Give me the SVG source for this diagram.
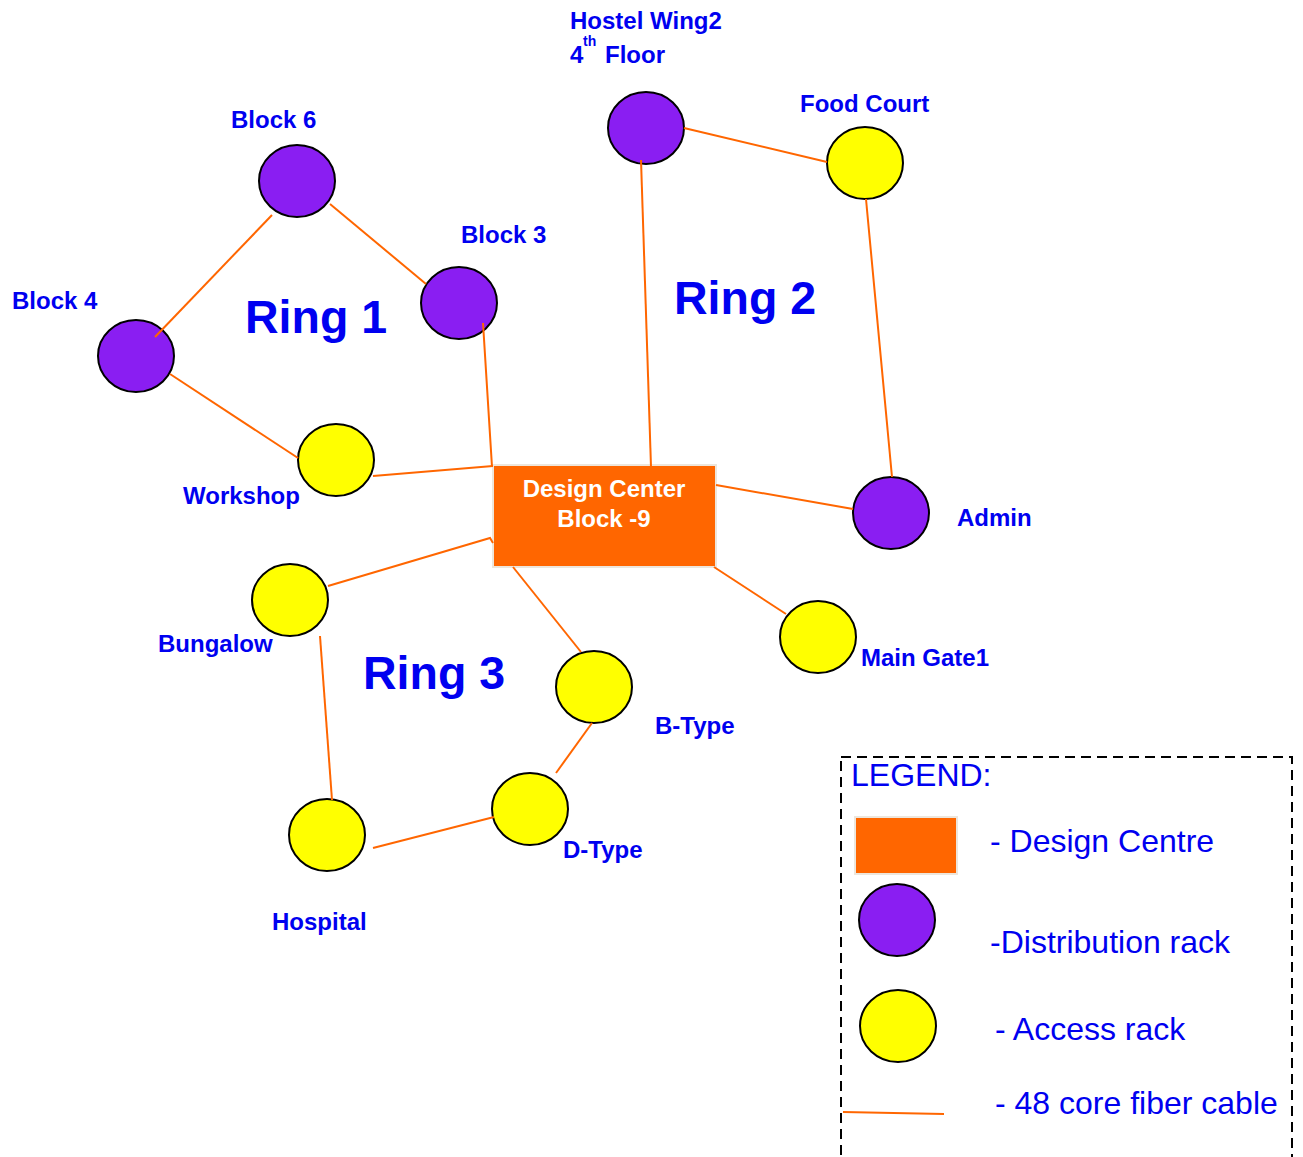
<svg xmlns="http://www.w3.org/2000/svg" width="1303" height="1157" viewBox="0 0 1303 1157">
<style>
.lbl{font-family:"Liberation Sans",Arial,sans-serif;font-weight:bold;font-size:24px;fill:#0000F0}
.ring{font-family:"Liberation Sans",Arial,sans-serif;font-weight:bold;font-size:46.5px;fill:#0000F0}
.leg{font-family:"Liberation Sans",Arial,sans-serif;font-size:32px;fill:#0000F0}
.dc{font-family:"Liberation Sans",Arial,sans-serif;font-weight:bold;font-size:24px;fill:#FFFFFF}
.dist{fill:#8A1EF2;stroke:#000;stroke-width:2}
.acc{fill:#FFFF00;stroke:#000;stroke-width:2}
.cable{stroke:#FF6600;stroke-width:2;fill:none}
</style>
<rect width="1303" height="1157" fill="#FFFFFF"/>

<g id="nodes">
<g id="block6"><ellipse class="dist" cx="297" cy="181" rx="38" ry="36"/><text class="lbl" x="231" y="128">Block 6</text></g>
<g id="block3"><ellipse class="dist" cx="459" cy="303" rx="38" ry="36"/><text class="lbl" x="461" y="243">Block 3</text></g>
<g id="block4"><ellipse class="dist" cx="136" cy="356" rx="38" ry="36"/><text class="lbl" x="12" y="309">Block 4</text></g>
<g id="workshop"><ellipse class="acc" cx="336" cy="460" rx="38" ry="36"/><text class="lbl" x="183" y="504">Workshop</text></g>
<g id="hostel"><ellipse class="dist" cx="646" cy="128" rx="38" ry="36"/><text class="lbl" x="570" y="29">Hostel Wing2</text><text class="lbl" x="570" y="63">4</text><text class="lbl" x="583" y="46" style="font-size:14px">th</text><text class="lbl" x="605" y="63">Floor</text></g>
<g id="foodcourt"><ellipse class="acc" cx="865" cy="163" rx="38" ry="36"/><text class="lbl" x="800" y="112">Food Court</text></g>
<g id="admin"><ellipse class="dist" cx="891" cy="513" rx="38" ry="36"/><text class="lbl" x="957" y="526">Admin</text></g>
<g id="maingate"><ellipse class="acc" cx="818" cy="637" rx="38" ry="36"/><text class="lbl" x="861" y="666">Main Gate1</text></g>
<g id="bungalow"><ellipse class="acc" cx="290" cy="600" rx="38" ry="36"/><text class="lbl" x="158" y="652">Bungalow</text></g>
<g id="btype"><ellipse class="acc" cx="594" cy="687" rx="38" ry="36"/><text class="lbl" x="655" y="734">B-Type</text></g>
<g id="dtype"><ellipse class="acc" cx="530" cy="809" rx="38" ry="36"/><text class="lbl" x="563" y="858">D-Type</text></g>
<g id="hospital"><ellipse class="acc" cx="327" cy="835" rx="38" ry="36"/><text class="lbl" x="272" y="930">Hospital</text></g>
<g id="designcenter"><rect x="493" y="465" width="223" height="102" fill="#FF6600" stroke="#EDE6DC" stroke-width="2"/><text class="dc" x="604" y="497" text-anchor="middle">Design Center</text><text class="dc" x="604" y="527" text-anchor="middle">Block -9</text></g>
</g>

<g id="connectors">
<line class="cable" x1="272" y1="215" x2="155" y2="337"/>
<line class="cable" x1="330" y1="204" x2="426" y2="284"/>
<line class="cable" x1="483" y1="323" x2="492" y2="467"/>
<line class="cable" x1="170" y1="374" x2="298" y2="458"/>
<line class="cable" x1="373" y1="476" x2="493" y2="466"/>
<line class="cable" x1="641" y1="160" x2="651" y2="467"/>
<line class="cable" x1="684" y1="128" x2="827" y2="162"/>
<line class="cable" x1="866" y1="199" x2="892" y2="477"/>
<line class="cable" x1="716" y1="485" x2="853" y2="509"/>
<line class="cable" x1="714" y1="567" x2="786" y2="614"/>
<polyline class="cable" points="493,543 490,538 328,586"/>
<line class="cable" x1="513" y1="567" x2="581" y2="652"/>
<line class="cable" x1="320" y1="636" x2="332" y2="800"/>
<line class="cable" x1="373" y1="848" x2="494" y2="817"/>
<line class="cable" x1="556" y1="773" x2="592" y2="723"/>
</g>

<g id="rings">
<text class="ring" x="245" y="333">Ring 1</text>
<text class="ring" x="674" y="314">Ring 2</text>
<text class="ring" x="363" y="689">Ring 3</text>
</g>

<g id="legend">
<rect x="841" y="757" width="451" height="420" fill="none" stroke="#000" stroke-width="2" stroke-dasharray="10,6"/>
<text class="leg" x="851" y="786">LEGEND:</text>
<rect x="855" y="817" width="102" height="57" fill="#FF6600" stroke="#EDE6DC" stroke-width="2"/>
<text class="leg" x="990" y="852">- Design Centre</text>
<ellipse class="dist" cx="897" cy="920" rx="38" ry="36"/>
<text class="leg" x="990" y="953">-Distribution rack</text>
<ellipse class="acc" cx="898" cy="1026" rx="38" ry="36"/>
<text class="leg" x="995" y="1040">- Access rack</text>
<line class="cable" x1="843" y1="1112" x2="944" y2="1114"/>
<text class="leg" x="995" y="1114">- 48 core fiber cable</text>
</g>
</svg>
